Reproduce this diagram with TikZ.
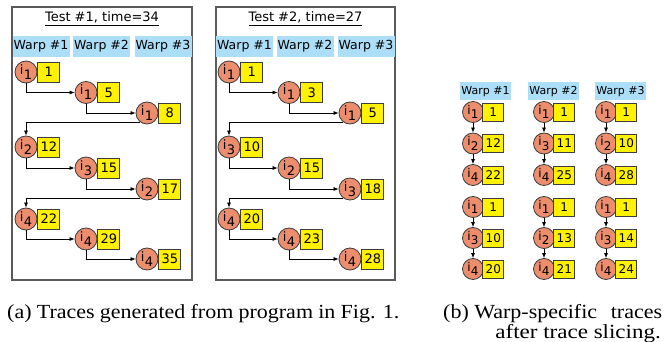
\documentclass[tikz,border=0pt]{standalone}
\usepackage{fontspec}
\usepackage{graphicx}
\setmainfont{Liberation Serif}
\newfontfamily\dvs{DejaVu Sans}
\usetikzlibrary{arrows.meta}
\definecolor{evfill}{RGB}{236,142,110}
\definecolor{hdrfill}{RGB}{173,222,248}
\definecolor{frm}{RGB}{90,90,90}
\definecolor{edg}{RGB}{60,60,60}
\newcommand\isub[1]{i\kern0.3pt\raisebox{-5pt}{#1}}
\newcommand\isubs[1]{i\kern0.2pt\raisebox{-4.5pt}{#1}}
\tikzset{
 ev/.style={circle, draw=edg, fill=evfill, line width=0.8pt, minimum size=22pt, inner sep=0pt, font=\dvs\fontsize{13}{13}\selectfont},
 numbox/.style={draw=edg, fill=yellow, line width=0.8pt, minimum width=22pt, minimum height=20pt, inner sep=0pt, font=\dvs\fontsize{13}{13}\selectfont},
 evs/.style={ev, minimum size=21pt, font=\dvs\fontsize{12}{12}\selectfont},
 numboxs/.style={numbox, minimum width=21pt, minimum height=18pt, font=\dvs\fontsize{12}{12}\selectfont},
 hdr/.style={fill=hdrfill, inner sep=0pt, minimum width=57pt, minimum height=21pt, font=\dvs\fontsize{12.5}{12.5}\selectfont},
 hdrs/.style={hdr, minimum width=51pt, minimum height=18pt, font=\dvs\fontsize{11}{11}\selectfont},
 frame/.style={draw=frm, line width=1.1pt, inner sep=0pt},
 flow/.style={draw=black, line width=0.7pt, -{Latex[length=5pt,width=4pt]}},
 ttl/.style={font=\dvs\fontsize{13}{13}\selectfont, inner sep=0pt},
 captext/.style={inner sep=0pt, font=\fontsize{20}{23}\selectfont},
}
\newcommand\evA[4]{%
 \node[ev] (#1) at (#2) {\isub{#3}};
 \node[numbox, anchor=west] (#1n) at (#1.east) {#4};}
\newcommand\evB[4]{%
 \node[evs] (#1) at (#2) {\isubs{#3}};
 \node[numboxs, anchor=west] (#1n) at ([xshift=-1.5pt]#1.east) {#4};}
\begin{document}
\begin{tikzpicture}[x=1pt,y=-1pt]
\useasboundingbox (0,0) rectangle (672,342);
% frames
\node[frame, minimum width=180pt, minimum height=273pt] (f1) at (102,143.5) {};
\node[frame, minimum width=179pt, minimum height=273pt] (f2) at (305.5,143.5) {};
\node[ttl, anchor=base] (t1) at (102,22) {\underline{Test \#1, time=34}};
\node[ttl, anchor=base] (t2) at (305.5,22) {\underline{Test \#2, time=27}};
% headers a
\node[hdr] (h11) at (41,46.5) {Warp \#1};
\node[hdr] (h12) at (101.5,46.5) {Warp \#2};
\node[hdr] (h13) at (163,46.5) {Warp \#3};
\node[hdr] (h21) at (244.5,46.5) {Warp \#1};
\node[hdr] (h22) at (305,46.5) {Warp \#2};
\node[hdr] (h23) at (366,46.5) {Warp \#3};
% test 1
\evA{a1}{26,72}{1}{1}
\evA{a2}{86,92.5}{1}{5}
\evA{a3}{147,113}{1}{8}
\evA{a4}{26,147}{2}{12}
\evA{a5}{86,168}{3}{15}
\evA{a6}{147,189}{2}{17}
\evA{a7}{26,219}{4}{22}
\evA{a8}{86,239}{4}{29}
\evA{a9}{147,259}{4}{35}
\draw[flow] (a1.south) |- (a2.west);
\draw[flow] (a2.south) |- (a3.west);
\draw[flow] (a3.235) -| (a4.north);
\draw[flow] (a4.south) |- (a5.west);
\draw[flow] (a5.south) |- (a6.west);
\draw[flow] (a6.235) -| (a7.north);
\draw[flow] (a7.south) |- (a8.west);
\draw[flow] (a8.south) |- (a9.west);
% test 2
\evA{b1}{229,72}{1}{1}
\evA{b2}{289,92.5}{1}{3}
\evA{b3}{350,113}{1}{5}
\evA{b4}{229,147}{3}{10}
\evA{b5}{289,168}{2}{15}
\evA{b6}{350,189}{3}{18}
\evA{b7}{229,219}{4}{20}
\evA{b8}{289,239}{4}{23}
\evA{b9}{350,259}{4}{28}
\draw[flow] (b1.south) |- (b2.west);
\draw[flow] (b2.south) |- (b3.west);
\draw[flow] (b3.235) -| (b4.north);
\draw[flow] (b4.south) |- (b5.west);
\draw[flow] (b5.south) |- (b6.west);
\draw[flow] (b6.235) -| (b7.north);
\draw[flow] (b7.south) |- (b8.west);
\draw[flow] (b8.south) |- (b9.west);
% panel b
\node[hdrs] (hp) at (485.5,91.5) {Warp \#1};
\node[hdrs] (hq) at (553.5,91.5) {Warp \#2};
\node[hdrs] (hr) at (620.5,91.5) {Warp \#3};
\evB{p1}{473,112}{1}{1}
\evB{p2}{473,143.5}{2}{12}
\evB{p3}{473,175}{4}{22}
\evB{p4}{473,207}{1}{1}
\evB{p5}{473,238}{3}{10}
\evB{p6}{473,269}{4}{20}
\evB{q1}{544,112}{1}{1}
\evB{q2}{544,143.5}{3}{11}
\evB{q3}{544,175}{4}{25}
\evB{q4}{544,207}{1}{1}
\evB{q5}{544,238}{2}{13}
\evB{q6}{544,269}{4}{21}
\evB{r1}{606,112}{1}{1}
\evB{r2}{606,143.5}{2}{10}
\evB{r3}{606,175}{4}{28}
\evB{r4}{606,207}{1}{1}
\evB{r5}{606,238}{3}{14}
\evB{r6}{606,269}{4}{24}
\foreach \c in {p,q,r}{
 \draw[flow] (\c1.south) -- (\c2.north);
 \draw[flow] (\c2.south) -- (\c3.north);
 \draw[flow] (\c4.south) -- (\c5.north);
 \draw[flow] (\c5.south) -- (\c6.north);
}
% captions
\node[captext, anchor=base west] (capa) at (7,318) {\scalebox{1.1}[1]{\makebox[356.4pt][s]{(a) Traces generated from program in Fig. 1.}}};
\node[captext, anchor=base west] (capb) at (443,318) {\scalebox{1.1}[1]{\makebox[199pt]{(b) Warp-specific\hfill traces}}};
\node[captext, anchor=base east] (capc) at (661,338) {\scalebox{1.15}[1]{after trace slicing.}};
\end{tikzpicture}
\end{document}
